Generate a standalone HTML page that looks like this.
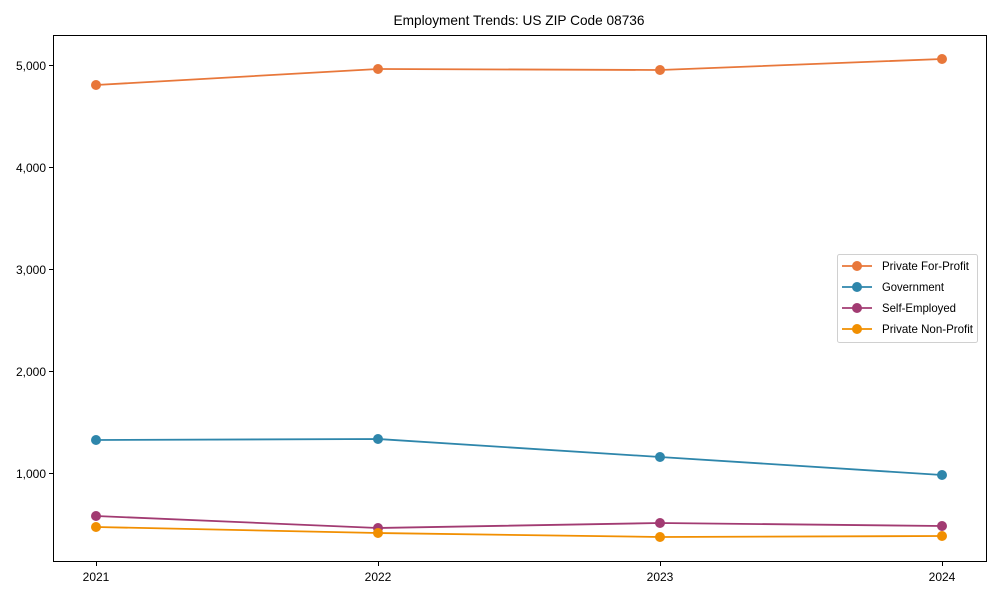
<!DOCTYPE html>
<html><head><style>body{margin:0;background:#fff}svg{display:block;font-family:"Liberation Sans",Arial,sans-serif}</style></head>
<body>
<svg width="1000" height="600" viewBox="0 0 1000 600" xmlns="http://www.w3.org/2000/svg">
<rect width="1000" height="600" fill="#fff"/>
<text x="519" y="25" font-size="14" text-anchor="middle" textLength="251" lengthAdjust="spacingAndGlyphs">Employment Trends: US ZIP Code 08736</text>
<g stroke="#000" stroke-width="1" fill="none">
<rect x="53.5" y="35.5" width="933" height="526"/>
<line x1="49" y1="65.5" x2="53" y2="65.5"/>
<line x1="49" y1="167.5" x2="53" y2="167.5"/>
<line x1="49" y1="269.5" x2="53" y2="269.5"/>
<line x1="49" y1="371.5" x2="53" y2="371.5"/>
<line x1="49" y1="473.5" x2="53" y2="473.5"/>
<line x1="96.5" y1="562" x2="96.5" y2="566"/>
<line x1="378.5" y1="562" x2="378.5" y2="566"/>
<line x1="660.5" y1="562" x2="660.5" y2="566"/>
<line x1="942.5" y1="562" x2="942.5" y2="566"/>
</g>
<g font-size="12" text-anchor="end">
<text x="46" y="70" textLength="30" lengthAdjust="spacingAndGlyphs">5,000</text>
<text x="46" y="172" textLength="30" lengthAdjust="spacingAndGlyphs">4,000</text>
<text x="46" y="274" textLength="30" lengthAdjust="spacingAndGlyphs">3,000</text>
<text x="46" y="376" textLength="30" lengthAdjust="spacingAndGlyphs">2,000</text>
<text x="46" y="478" textLength="30" lengthAdjust="spacingAndGlyphs">1,000</text>
</g>
<g font-size="12" text-anchor="middle">
<text x="96" y="581">2021</text><text x="378" y="581">2022</text><text x="660" y="581">2023</text><text x="942" y="581">2024</text>
</g>
<g stroke-width="1.8" fill="none">
<polyline stroke="#e8773a" points="96,85 378,69 660,70 942,59"/>
<polyline stroke="#2e86ab" points="96,440 378,439 660,457 942,475"/>
<polyline stroke="#a23b72" points="96,516 378,528 660,523 942,526"/>
<polyline stroke="#f18f01" points="96,527 378,533 660,537 942,536"/>
</g>
<g fill="#e8773a"><circle cx="96" cy="85" r="5"/><circle cx="378" cy="69" r="5"/><circle cx="660" cy="70" r="5"/><circle cx="942" cy="59" r="5"/></g>
<g fill="#2e86ab"><circle cx="96" cy="440" r="5"/><circle cx="378" cy="439" r="5"/><circle cx="660" cy="457" r="5"/><circle cx="942" cy="475" r="5"/></g>
<g fill="#a23b72"><circle cx="96" cy="516" r="5"/><circle cx="378" cy="528" r="5"/><circle cx="660" cy="523" r="5"/><circle cx="942" cy="526" r="5"/></g>
<g fill="#f18f01"><circle cx="96" cy="527" r="5"/><circle cx="378" cy="533" r="5"/><circle cx="660" cy="537" r="5"/><circle cx="942" cy="536" r="5"/></g>
<rect x="837.5" y="254.5" width="140" height="88" rx="2" fill="#fff" stroke="#d0d0d0"/>
<g stroke-width="1.8">
<line x1="842" y1="266" x2="872" y2="266" stroke="#e8773a"/><circle cx="857" cy="266" r="5" fill="#e8773a"/>
<line x1="842" y1="287" x2="872" y2="287" stroke="#2e86ab"/><circle cx="857" cy="287" r="5" fill="#2e86ab"/>
<line x1="842" y1="308" x2="872" y2="308" stroke="#a23b72"/><circle cx="857" cy="308" r="5" fill="#a23b72"/>
<line x1="842" y1="329" x2="872" y2="329" stroke="#f18f01"/><circle cx="857" cy="329" r="5" fill="#f18f01"/>
</g>
<g font-size="12">
<text x="882" y="270" textLength="87" lengthAdjust="spacingAndGlyphs">Private For-Profit</text>
<text x="882" y="291" textLength="62" lengthAdjust="spacingAndGlyphs">Government</text>
<text x="882" y="312" textLength="74" lengthAdjust="spacingAndGlyphs">Self-Employed</text>
<text x="882" y="333" textLength="91" lengthAdjust="spacingAndGlyphs">Private Non-Profit</text>
</g>
</svg>
</body></html>
